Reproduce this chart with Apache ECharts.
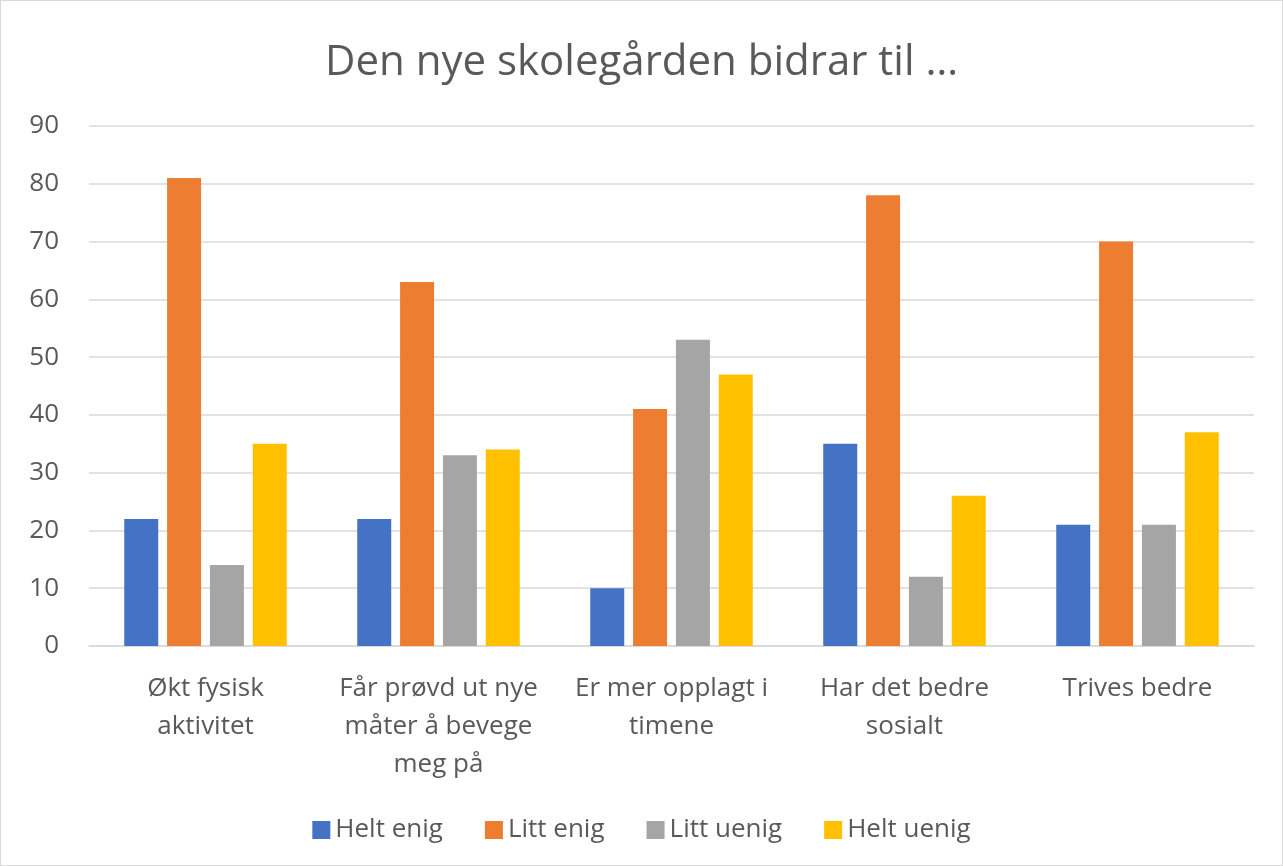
<!DOCTYPE html>
<html>
<head>
<meta charset="utf-8">
<script src="https://cdn.jsdelivr.net/npm/echarts@6/dist/echarts.min.js"></script>
<style>
    html, body { margin: 0; padding: 0; background: #fff; }
    #chart {
        width: 1281px;
        height: 864px;
        border: 1px solid #d9d9d9;
    }
</style>
</head>
<body>
<div id="chart"></div>
<script>
// kategorier og verdier lest av bildet
const categories = [
    'Økt fysisk\naktivitet',
    'Får prøvd ut nye\nmåter å bevege\nmeg på',
    'Er mer opplagt i\ntimene',
    'Har det bedre\nsosialt',
    'Trives bedre'
];
const heltEnig = [22, 22, 10, 35, 21];
const littEnig = [81, 63, 41, 78, 70];
const littUenig = [14, 33, 53, 12, 21];
const heltUenig = [35, 34, 47, 26, 37];
const seriesNames = ['Helt enig', 'Litt enig', 'Litt uenig', 'Helt uenig'];
const colors = ['#4472c4', '#ed7d31', '#a5a5a5', '#ffc000'];

const chart = echarts.init(document.getElementById('chart'));
const font = 'Open Sans, Lato, sans-serif';

const makeBar = (name, data, i) => ({
    name: name,
    type: 'bar',
    barWidth: 34,
    barGap: '26%',
    itemStyle: { color: colors[i] },
    data: data
});

const option = {
    animation: false,
    textStyle: { fontFamily: font },
    title: {
        text: 'Den nye skolegården bidrar til …',
        left: 'center',
        top: 36,
        textStyle: { fontSize: 42, fontWeight: 'normal', color: '#595959', fontFamily: font }
    },
    legend: {
        bottom: 17,
        left: 'center',
        itemWidth: 18,
        itemHeight: 18,
        itemGap: 42,
        icon: 'rect',
        textStyle: { fontSize: 26, color: '#595959', fontFamily: font },
        data: seriesNames
    },
    grid: {
        left: 88,
        right: 28,
        top: 125,
        bottom: 219
    },
    xAxis: {
        type: 'category',
        data: categories,
        axisLine: { lineStyle: { color: '#d9d9d9', width: 1.5 } },
        axisTick: { show: false },
        axisLabel: {
            fontSize: 26,
            color: '#595959',
            lineHeight: 38,
            margin: 24,
            interval: 0
        }
    },
    yAxis: {
        type: 'value',
        min: 0,
        max: 90,
        interval: 10,
        axisLine: { show: false },
        axisTick: { show: false },
        splitLine: { lineStyle: { color: '#d9d9d9', width: 1.5 } },
        axisLabel: { fontSize: 26, color: '#595959', margin: 30 }
    },
    series: [
        makeBar(seriesNames[0], heltEnig, 0),
        makeBar(seriesNames[1], littEnig, 1),
        makeBar(seriesNames[2], littUenig, 2),
        makeBar(seriesNames[3], heltUenig, 3)
    ]
};

chart.setOption(option);
window.addEventListener('resize', () => chart.resize());
</script>
</body>
</html>
